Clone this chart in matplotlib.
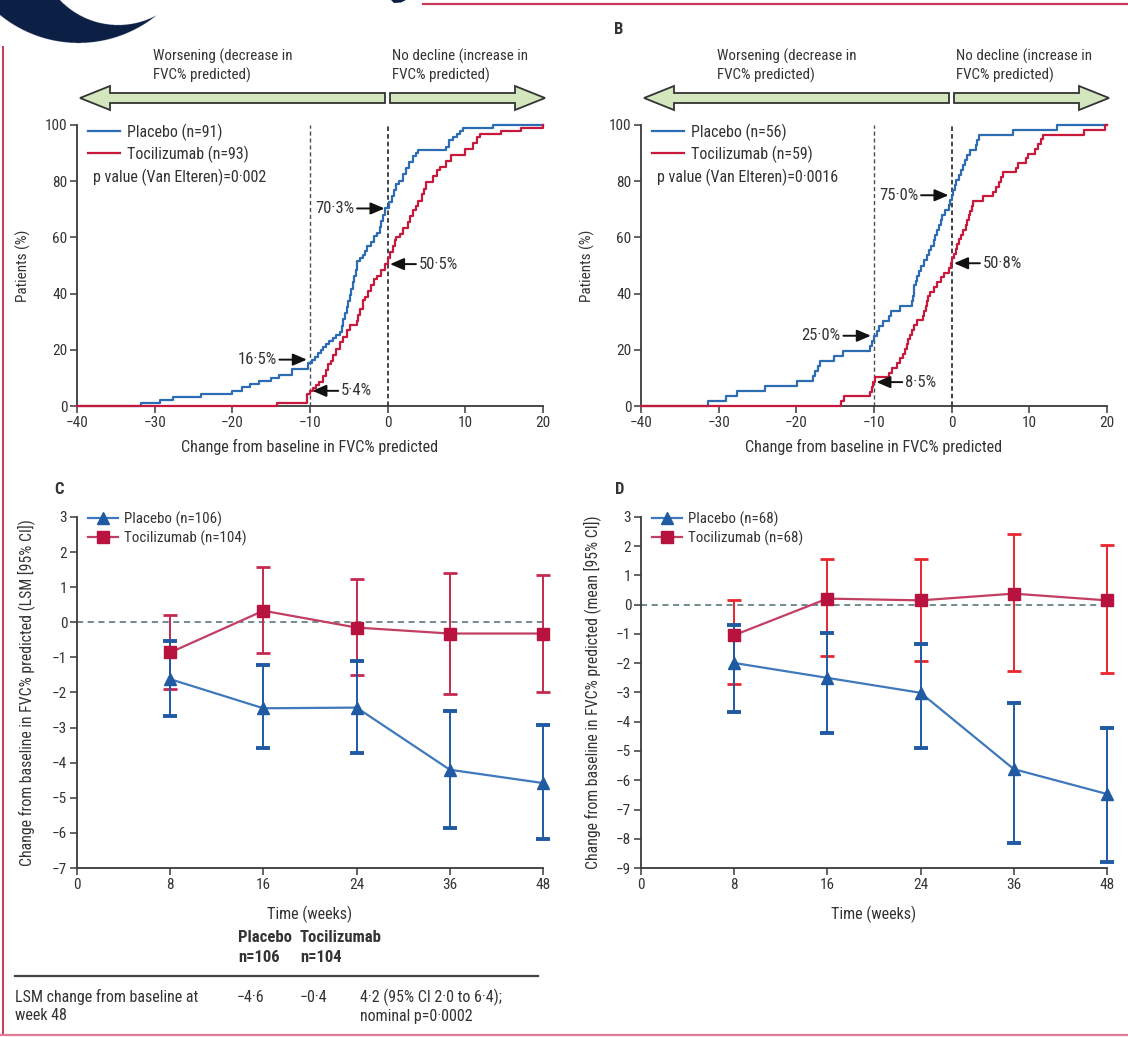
import numpy as np
import matplotlib
matplotlib.use("Agg")
import matplotlib.pyplot as plt
from matplotlib import font_manager
from matplotlib.patches import Polygon

# ---- font choice: prefer a narrow humanist sans ----
entries = [(f.name, str(f.stretch)) for f in font_manager.fontManager.ttflist]
names = {n for n, s in entries}
fam, stretch = 'Roboto', 'normal'
if 'Liberation Sans Narrow' in names:
    fam = 'Liberation Sans Narrow'
elif 'Roboto Condensed' in names:
    fam = 'Roboto Condensed'
elif 'Open Sans Condensed' in names:
    fam = 'Open Sans Condensed'
else:
    for cand in ['Noto Sans', 'Open Sans', 'DejaVu Sans', 'Roboto']:
        if any(n == cand and ('condensed' in s or s in ('75', '62.5', '87.5')) for n, s in entries):
            fam, stretch = cand, 'condensed'
            break
plt.rcParams['font.family'] = [fam, 'DejaVu Sans']
plt.rcParams['font.stretch'] = stretch
plt.rcParams['axes.unicode_minus'] = True

# ---------------- DATA ----------------
# Panel A: cumulative distribution (x = change in FVC% predicted, y = % patients)
a_pla_x = [-40, -31.7, -29.3, -27.6, -24.0, -20.0, -18.8, -17.7, -16.6, -15.0, -14.0, -12.3,
           -10.2, -9.8, -9.4, -9.0, -8.6, -8.3, -7.9, -7.5, -7.0, -6.6, -6.2, -5.9, -5.7,
           -5.5, -5.3, -5.1, -4.9, -4.7, -4.5, -4.3, -4.1, -3.9, -3.5, -3.2, -2.9, -2.6,
           -2.2, -1.8, -1.4, -1.0, -0.8, -0.6, -0.3, 0.2, 0.5, 0.8, 1.1, 1.5, 2.0, 2.4,
           2.8, 3.2, 3.6, 3.9, 7.5, 7.9, 8.4, 8.9, 9.3, 9.7, 13.6, 20]
a_pla_y = [0, 1.1, 2.2, 3.3, 4.4, 5.5, 6.6, 7.7, 8.8, 9.9, 11.0, 13.2,
           15.4, 16.5, 17.6, 18.7, 19.8, 20.9, 22.0, 23.1, 24.2, 25.3, 26.4, 28.6, 30.8,
           33.0, 35.2, 37.4, 39.6, 41.8, 44.0, 46.2, 48.4, 51.6, 52.7, 53.8, 55.0, 57.1,
           58.2, 60.4, 61.5, 63.7, 65.9, 68.1, 70.3, 72.5, 74.7, 76.9, 79.1, 80.2, 82.4, 84.6,
           86.8, 89.0, 90.1, 91.2, 92.3, 94.5, 95.6, 96.7, 97.8, 98.9, 100, 100]
a_toc_x = [-40, -14.3, -10.4, -10.0, -9.6, -9.2, -8.8, -8.3, -8.0, -7.7, -7.3, -7.0, -6.6,
           -6.2, -5.8, -5.3, -4.9, -4.0, -3.8, -3.6, -3.2, -2.9, -2.5, -2.1, -1.7, -1.4,
           -0.8, -0.3, 0.1, 0.3, 0.7, 0.9, 1.1, 1.6, 2.0, 2.6, 2.9, 3.3, 3.6, 3.9, 4.4,
           4.7, 5.0, 5.8, 6.3, 6.7, 7.5, 8.2, 9.9, 11.0, 11.5, 11.9, 14.6, 17.2, 20]
a_toc_y = [0, 1.1, 4.3, 5.4, 6.5, 7.5, 8.6, 10.8, 12.9, 15.1, 16.1, 18.3, 20.4,
           22.6, 24.7, 26.9, 29.0, 30.1, 32.3, 34.4, 37.6, 38.7, 40.9, 43.0, 45.2, 46.2,
           48.4, 50.5, 52.7, 54.8, 57.0, 59.1, 60.2, 61.3, 63.4, 65.6, 67.7, 69.9, 71.0, 73.1, 75.3,
           77.4, 79.6, 81.7, 83.9, 85.0, 87.1, 89.2, 91.4, 93.5, 95.7, 96.8, 97.8, 98.9, 100]

# Panel B
b_pla_x = [-40, -31.4, -29.0, -27.6, -24.0, -19.9, -17.9, -17.6, -17.2, -17.0, -15.1, -14.0,
           -10.5, -10.3, -10.0, -9.6, -9.4, -8.8, -8.1, -7.8, -6.6, -5.1, -5.0, -4.9, -4.8,
           -4.6, -4.4, -4.2, -3.9, -3.6, -3.2, -2.9, -2.6, -2.3, -2.1, -1.9, -1.6, -1.4,
           -1.2, -0.8, -0.4, -0.2, 0.0, 0.2, 0.4, 0.6, 0.9, 1.2, 1.4, 1.7, 2.0, 2.3, 3.1,
           3.3, 3.5, 7.9, 13.5, 20]
b_pla_y = [0, 1.8, 3.6, 5.4, 7.1, 8.9, 10.7, 12.5, 14.3, 16.1, 17.9, 19.6,
           21.4, 23.2, 25.0, 26.8, 28.6, 30.4, 32.1, 33.9, 35.7, 37.5, 39.3, 41.1, 42.9,
           44.6, 46.4, 48.2, 50.0, 51.8, 53.6, 55.4, 57.1, 58.9, 60.7, 62.5, 64.3, 66.1,
           67.9, 69.6, 71.4, 73.2, 75.0, 76.8, 78.6, 80.4, 82.1, 83.9, 85.7, 87.5, 89.3, 91.1, 92.9,
           94.6, 96.4, 98.2, 100, 100]
b_toc_x = [-40, -14.2, -13.8, -10.5, -10.3, -10.1, -9.9, -8.1, -7.7, -7.0, -6.6, -6.3, -6.0,
           -5.8, -5.6, -5.4, -5.1, -4.8, -4.5, -3.7, -3.5, -3.3, -3.2, -3.0, -2.8, -2.3,
           -1.9, -1.4, -1.0, -0.4, -0.1, 0.1, 0.3, 0.5, 0.7, 0.9, 1.2, 1.4, 1.8, 2.0, 2.2,
           2.4, 2.6, 2.7, 4.0, 5.3, 5.7, 6.1, 6.4, 6.6, 8.3, 8.5, 9.6, 9.8, 10.7, 11.1,
           11.5, 11.8, 17.0, 19.8, 20]
b_toc_y = [0, 1.7, 3.4, 5.1, 6.8, 8.5, 10.2, 11.9, 13.6, 15.3, 17.0, 18.6, 20.3,
           22.0, 23.7, 25.4, 27.1, 28.8, 30.5, 32.2, 33.9, 35.6, 37.3, 39.0, 40.7, 42.4,
           44.1, 45.8, 47.5, 49.2, 50.8, 52.5, 54.2, 55.9, 57.6, 59.3, 61.0, 62.7, 64.4, 66.1, 67.8,
           69.5, 71.2, 72.9, 74.6, 76.3, 78.0, 79.7, 81.4, 83.1, 84.7, 86.4, 88.1, 89.8, 91.5, 93.2,
           94.9, 96.6, 98.3, 100, 100]

# Panel C: LSM (95% CI)
weeks = [8, 16, 24, 36, 48]
week_ticks = ['0', '8', '16', '24', '36', '48']
c_pla_mean = [-1.62, -2.45, -2.43, -4.20, -4.58]
c_pla_lo = [-2.66, -3.59, -3.73, -5.86, -6.18]
c_pla_hi = [-0.54, -1.22, -1.09, -2.52, -2.92]
c_toc_mean = [-0.86, 0.33, -0.15, -0.32, -0.32]
c_toc_lo = [-1.90, -0.87, -1.50, -2.04, -2.00]
c_toc_hi = [0.20, 1.58, 1.23, 1.40, 1.35]
# Panel D: mean (95% CI)
d_pla_mean = [-1.99, -2.50, -3.01, -5.62, -6.47]
d_pla_lo = [-3.67, -4.40, -4.91, -8.15, -8.81]
d_pla_hi = [-0.68, -0.98, -1.34, -3.35, -4.21]
d_toc_mean = [-1.04, 0.21, 0.15, 0.38, 0.15]
d_toc_lo = [-2.70, -1.74, -1.94, -2.25, -2.34]
d_toc_hi = [0.15, 1.58, 1.55, 2.43, 2.05]

# annotations for A/B: (label, value, x of dashed line, side)
a_notes = [("70·3%", 70.3, 0, 'left'), ("50·5%", 50.5, 0, 'right'),
           ("16·5%", 16.5, -10, 'left'), ("5·4%", 5.4, -10, 'right')]
b_notes = [("75·0%", 75.0, 0, 'left'), ("50·8%", 50.8, 0, 'right'),
           ("25·0%", 25.0, -10, 'left'), ("8·5%", 8.5, -10, 'right')]

# ---------------- STYLE ----------------
W, H = 1128, 1037
BLUE = '#2b6cb3'
RED = '#c8193c'
DBLUE = '#1f5aa3'
CRIM = '#b8123f'
TXT = '#333333'
AX = '#3a3a3a'
NAVY = '#0c1f45'

fig = plt.figure(figsize=(W / 100, H / 100), dpi=100)

def ax_px(l, t, r, b):
    return fig.add_axes([l / W, 1 - b / H, (r - l) / W, (b - t) / H])

def style(ax):
    for s in ['top', 'right']:
        ax.spines[s].set_visible(False)
    for s in ['left', 'bottom']:
        ax.spines[s].set_color(AX)
        ax.spines[s].set_linewidth(1.3)
    ax.tick_params(direction='out', length=5, width=1.1, color=AX, labelcolor=TXT,
                   labelsize=11, pad=2)
    ax.set_facecolor('none')

# overlay for decorations
ov = fig.add_axes([0, 0, 1, 1], zorder=0)
ov.axis('off')

# crescent logo piece
gx, gy = np.meshgrid(np.linspace(0, 180, 720), np.linspace(0, 50, 200))
outer = (gx - 78.5) ** 2 + (gy + 81) ** 2 <= 124 ** 2
inner = (gx - 118.3) ** 2 + (gy + 55.5) ** 2 <= 80.5 ** 2
mask = outer & ~inner
img = np.zeros(mask.shape + (4,))
img[..., 0], img[..., 1], img[..., 2] = 0x0c / 255, 0x1f / 255, 0x45 / 255
img[..., 3] = mask.astype(float)
ov.imshow(img, extent=(0, 180, 50, 0), interpolation='antialiased', zorder=1)
ov.set_xlim(0, W)
ov.set_ylim(H, 0)
ov.set_aspect('auto')
ov.add_patch(Polygon([(391, 0), (406, 0), (401, 2.5), (394, 3)], closed=True,
                     facecolor=NAVY, edgecolor='none'))

ov.plot([423, W], [4, 4], color='#c8385a', lw=1.6)
ov.plot([3, 3], [47, 1034], color='#c8385a', lw=1.4)
ov.plot([0, W], [1035, 1035], color='#e07a95', lw=1.6)

def garrow(x_tip, x_tail, y=98, direction=-1):
    hl, hw, bw = 30, 12, 5
    base = x_tip - direction * hl
    pts = [(x_tip, y), (base, y - hw), (base, y - bw), (x_tail, y - bw),
           (x_tail, y + bw), (base, y + bw), (base, y + hw)]
    ov.add_patch(Polygon(pts, closed=True, facecolor='#d3e6bd', edgecolor='#333333', lw=1.3))

for off in (0, 564):
    garrow(80 + off, 385 + off, direction=-1)
    garrow(545 + off, 390 + off, direction=1)
    ov.text(153 + off, 66, "Worsening (decrease in\nFVC% predicted)", fontsize=10.8,
            color=TXT, ha='left', va='center', linespacing=1.3)
    ov.text(392 + off, 66, "No decline (increase in\nFVC% predicted)", fontsize=10.8,
            color=TXT, ha='left', va='center', linespacing=1.3)

ov.text(614, 30, "B", fontsize=12, fontweight='bold', color=TXT, va='center')
ov.text(54, 490, "C", fontsize=12, fontweight='bold', color=TXT, va='center')
ov.text(615, 490, "D", fontsize=12, fontweight='bold', color=TXT, va='center')

# table
ov.text(238, 938, "Placebo", fontsize=12, fontweight='bold', color=TXT, va='center')
ov.text(238, 958, "n=106", fontsize=12, fontweight='bold', color=TXT, va='center')
ov.text(300, 938, "Tocilizumab", fontsize=12, fontweight='bold', color=TXT, va='center')
ov.text(300, 958, "n=104", fontsize=12, fontweight='bold', color=TXT, va='center')
ov.plot([15, 538], [976, 976], color='#444444', lw=1.6)
ov.text(15, 997, "LSM change from baseline at", fontsize=11.5, color=TXT, va='center')
ov.text(15, 1016, "week 48", fontsize=11.5, color=TXT, va='center')
ov.text(237, 997, "−4·6", fontsize=11.5, color=TXT, va='center')
ov.text(300, 997, "−0·4", fontsize=11.5, color=TXT, va='center')
ov.text(360, 997, "4·2 (95% CI 2·0 to 6·4);", fontsize=11.5, color=TXT, va='center')
ov.text(360, 1016, "nominal p=0·0002", fontsize=11.5, color=TXT, va='center')

# ---------------- A / B ----------------
def cdf_panel(ax, px, py, tx, ty, npla, ntoc, pval, notes):
    style(ax)
    ax.set_xlim(-40, 20)
    ax.set_ylim(0, 100)
    ax.set_xticks(range(-40, 21, 10))
    ax.set_yticks(range(0, 101, 20))
    ax.plot([-10, -10], [0, 100], color='#445055', lw=1.0, ls=(0, (3, 2)), zorder=2)
    ax.plot([0, 0], [0, 100], color='#111111', lw=1.1, ls=(0, (3, 2)), zorder=2)
    ax.plot(px, py, drawstyle='steps-post', color=BLUE, lw=1.6, zorder=3,
            label=f"Placebo (n={npla})", clip_on=False)
    ax.plot(tx, ty, drawstyle='steps-post', color=RED, lw=1.6, zorder=3,
            label=f"Tocilizumab (n={ntoc})", clip_on=False)
    ax.legend(loc='upper left', bbox_to_anchor=(0.0, 1.045), frameon=False, fontsize=11.5,
              handlelength=2.0, handletextpad=0.4, labelspacing=0.3, borderaxespad=0.3,
              labelcolor=TXT)
    ax.text(-37.9, 81.5, f"p value (Van Elteren)={pval}", fontsize=11.5, color=TXT,
            va='center', ha='left')
    for lab, val, xl, side in notes:
        if side == 'left':
            xt, xa, ha = xl - 4.3, xl - 0.4, 'right'
        else:
            xt, xa, ha = xl + 4.0, xl + 0.3, 'left'
        ax.annotate(lab, xy=(xa, val), xytext=(xt, val), fontsize=12, color=TXT,
                    ha=ha, va='center', zorder=5,
                    arrowprops=dict(arrowstyle='-|>,head_length=0.7,head_width=0.3',
                                    color='#111111', lw=1.4, shrinkA=0, shrinkB=0))
    ax.set_xlabel("Change from baseline in FVC% predicted", fontsize=11.6, color=TXT,
                  labelpad=7)

axA = ax_px(77, 125, 543, 406)
cdf_panel(axA, a_pla_x, a_pla_y, a_toc_x, a_toc_y, 91, 93, "0·002", a_notes)
axA.set_ylabel("Patients (%)", fontsize=11, color=TXT, labelpad=10)
axB = ax_px(641, 125, 1107, 406)
cdf_panel(axB, b_pla_x, b_pla_y, b_toc_x, b_toc_y, 56, 59, "0·0016", b_notes)
axB.set_ylabel("Patients (%)", fontsize=11, color=TXT, labelpad=10)

# ---------------- C / D ----------------
def unclip(eb):
    for art in list(eb.lines[1]) + list(eb.lines[2]):
        art.set_clip_on(False)

def ts_panel(ax, pm, plo, phi, tm, tlo, thi, npla, ntoc, ylo, toc_err_col, ylabel, lpad):
    style(ax)
    pos = np.arange(1, len(weeks) + 1)
    ax.set_xlim(0, len(weeks))
    ax.set_xticks(np.arange(0, len(weeks) + 1))
    ax.set_xticklabels(week_ticks)
    ax.set_ylim(ylo, 3)
    ax.set_yticks(range(ylo, 4))
    ax.axhline(0, color='#4d6b70', lw=1.1, ls=(0, (4, 3)), zorder=1)
    pm, plo, phi = map(np.array, (pm, plo, phi))
    tm, tlo, thi = map(np.array, (tm, tlo, thi))
    unclip(ax.errorbar(pos, tm, yerr=[tm - tlo, thi - tm], fmt='none', ecolor=toc_err_col,
                       elinewidth=1.4, capsize=5, capthick=2.0, zorder=2))
    unclip(ax.errorbar(pos, pm, yerr=[pm - plo, phi - pm], fmt='none', ecolor=DBLUE,
                       elinewidth=1.4, capsize=5, capthick=2.8, zorder=2))
    ax.plot(pos, pm, '-', color='#3f78bd', lw=1.6, marker='^', ms=8, mfc=DBLUE, mec=DBLUE,
            zorder=3, label=f"Placebo (n={npla})", clip_on=False)
    ax.plot(pos, tm, '-', color='#c23e62', lw=1.6, marker='s', ms=8, mfc=CRIM, mec=CRIM,
            zorder=3, label=f"Tocilizumab (n={ntoc})", clip_on=False)
    ax.legend(loc='upper left', bbox_to_anchor=(0.0, 1.045), frameon=False, fontsize=10.8,
              handlelength=2.0, handletextpad=0.4, labelspacing=0.25, borderaxespad=0.3,
              labelcolor=TXT)
    ax.set_xlabel("Time (weeks)", fontsize=11.5, color=TXT, labelpad=10)
    ax.set_ylabel(ylabel, fontsize=11.3, color=TXT, labelpad=lpad)

axC = ax_px(77, 517, 543, 868)
ts_panel(axC, c_pla_mean, c_pla_lo, c_pla_hi, c_toc_mean, c_toc_lo, c_toc_hi, 106, 104, -7,
         '#c42a50', "Change from baseline in FVC% predicted (LSM [95% CI])", 12)
axD = ax_px(641, 517, 1107, 868)
ts_panel(axD, d_pla_mean, d_pla_lo, d_pla_hi, d_toc_mean, d_toc_lo, d_toc_hi, 68, 68, -9,
         '#e8262e', "Change from baseline in FVC% predicted (mean [95% CI])", 11)

fig.savefig("out.png", dpi=100)
